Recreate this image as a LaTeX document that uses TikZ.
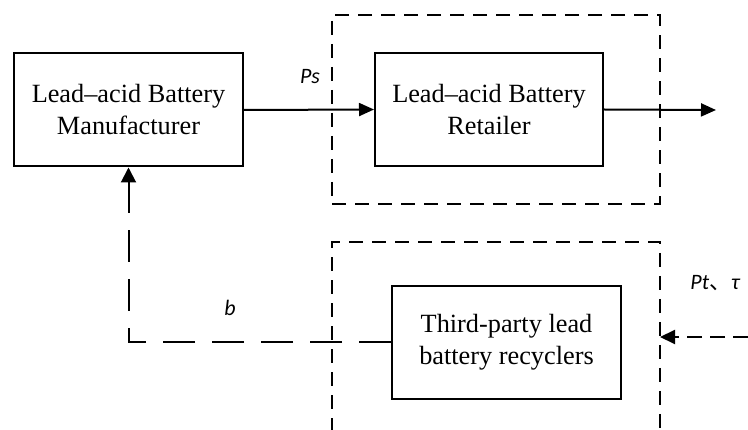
\documentclass[tikz,border=0pt]{standalone}
\usepackage{fontspec}
\setmainfont{Liberation Serif}
\newfontfamily\labfont{Carlito}
\newfontfamily\cjk{Noto Sans CJK SC}
\usetikzlibrary{arrows.meta}
\begin{document}
\begin{tikzpicture}[x=1pt,y=-1pt,
  box/.style={draw, line width=2pt, minimum width=229pt, minimum height=113pt,
    align=center, inner sep=0pt, font=\fontsize{26.3}{32}\selectfont},
  dbox/.style={draw, line width=2pt, dash pattern=on 14pt off 9pt},
  solidarrow/.style={line width=2pt, -{Triangle[length=15pt,width=13pt]}},
  fbarrow/.style={line width=2pt, dash pattern=on 32pt off 17pt, -{Triangle[length=15pt,width=15pt]}},
  inarrow/.style={line width=2pt, dash pattern=on 15pt off 8pt, -{Triangle[length=15pt,width=14pt]}},
  lab/.style={inner sep=0pt, font=\labfont\itshape\fontsize{22}{24}\selectfont}]
\useasboundingbox (0,0) rectangle (748,430);

% nodes
\node[box] (man) at (128.5,110) {Lead--acid Battery\\Manufacturer};
\node[box, minimum width=228pt] (ret) at (489,109.5) {Lead--acid Battery\\Retailer};
\node[box] (rec) at (506.5,342.5) {Third-party lead\\battery recyclers};

% dashed containers
\node[dbox, minimum width=328pt, minimum height=189pt, inner sep=0pt] (topbox) at (496,109.5) {};
\coordinate (bl) at (332,432);
\coordinate (br) at (660,432);
\draw[dbox] (bl) -- (332,242) -- (660,242) -- (br);

% connectors
\coordinate (out) at (716,110);
\coordinate (inedge) at (748,337);
\coordinate (intip) at (660,337);
\draw[solidarrow] (man.east) -- (ret.west);
\draw[solidarrow] (ret.east) -- (out);
\draw[fbarrow] (rec.west) -| (man.south);
\draw[inarrow] (inedge) -- (intip);

% labels
\node[lab] (ps) at (310,77) {Ps};
\node[lab] (b) at (230,308) {b};
\node[lab] (pt) at (715,283) {Pt{\cjk\upshape 、}τ};
\end{tikzpicture}
\end{document}
